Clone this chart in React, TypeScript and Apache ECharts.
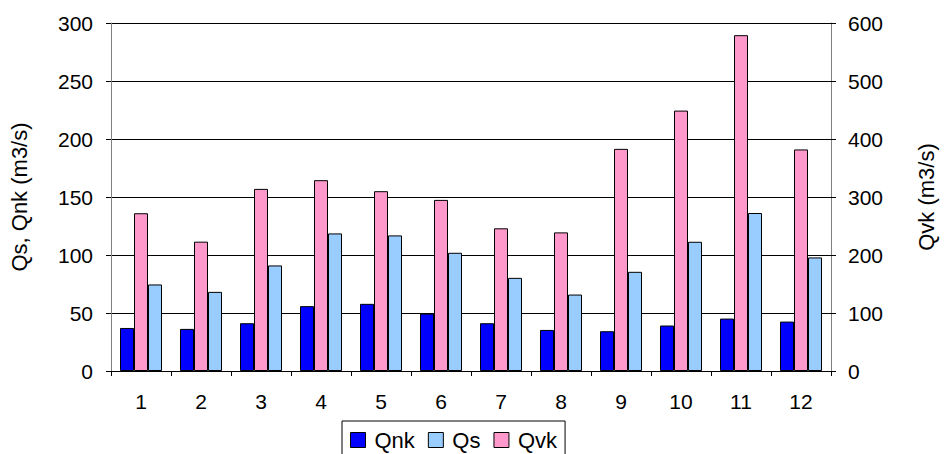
import React, { useEffect, useRef } from "react";
import * as echarts from "echarts";

const categories = ["1", "2", "3", "4", "5", "6", "7", "8", "9", "10", "11", "12"];
const qnk = [37.1, 36.3, 41.2, 55.9, 57.9, 49.5, 41.2, 35.4, 34.3, 39.2, 45.2, 42.6];
const qs = [74.6, 68.2, 91.0, 118.6, 116.9, 101.9, 80.3, 65.9, 85.5, 111.4, 136.2, 97.9];
const qvk = [272, 223, 314, 329, 310, 295, 246, 239, 383, 449, 579, 382];
const leftTicks = { min: 0, max: 300, interval: 50 };
const rightTicks = { min: 0, max: 600, interval: 100 };

const FONT = "'Liberation Sans', Arial, sans-serif";

export default function App() {
  const ref = useRef<HTMLDivElement>(null);
  useEffect(() => {
    if (!ref.current) return;
    const chart = echarts.init(ref.current, null, { renderer: "svg" });
    const border = { borderColor: "#000", borderWidth: 1 };
    chart.setOption({
      animation: false,
      backgroundColor: "#fff",
      textStyle: { fontFamily: FONT, color: "#000" },
      grid: { left: 108, right: 105, top: 23, bottom: 83 },
      legend: {
        data: ["Qnk", "Qs", "Qvk"],
        left: 342,
        top: 421,
        icon: "rect",
        itemWidth: 15,
        itemHeight: 15,
        itemGap: 13,
        padding: [8, 8, 8, 8],
        borderColor: "#000",
        borderWidth: 1,
        itemStyle: { borderColor: "#000", borderWidth: 1 },
        textStyle: { fontFamily: FONT, fontSize: 22, color: "#000", padding: [0, 0, 0, 4] },
      },
      xAxis: {
        type: "category",
        data: categories,
        axisLine: { lineStyle: { color: "#000", width: 1 } },
        axisTick: { show: true, length: 5, alignWithLabel: false, lineStyle: { color: "#000" } },
        axisLabel: { fontFamily: FONT, fontSize: 21, color: "#000", margin: 20 },
        splitLine: { show: false },
      },
      yAxis: [
        {
          type: "value",
          ...leftTicks,
          position: "left",
          name: "Qs, Qnk (m3/s)",
          nameLocation: "middle",
          nameGap: 81,
          nameTextStyle: { fontFamily: FONT, fontSize: 22, color: "#000" },
          axisLine: { show: true, lineStyle: { color: "#808080", width: 1 } },
          axisTick: { show: true, length: 5, inside: false, lineStyle: { color: "#000" } },
          axisLabel: { fontFamily: FONT, fontSize: 21, color: "#000", margin: 18 },
          splitLine: { show: true, lineStyle: { color: "#000", width: 1 } },
        },
        {
          type: "value",
          ...rightTicks,
          position: "right",
          name: "Qvk (m3/s)",
          nameLocation: "middle",
          nameGap: 84,
          nameTextStyle: { fontFamily: FONT, fontSize: 22, color: "#000" },
          axisLine: { show: true, lineStyle: { color: "#808080", width: 1 } },
          axisTick: { show: true, length: 5, inside: false, lineStyle: { color: "#000" } },
          axisLabel: { fontFamily: FONT, fontSize: 21, color: "#000", margin: 17 },
          splitLine: { show: false },
        },
      ],
      series: [
        {
          name: "Qnk",
          type: "bar",
          yAxisIndex: 0,
          data: qnk,
          barWidth: 14,
          barGap: "0%",
          itemStyle: { color: "#0000FF", ...border },
        },
        {
          name: "Qvk",
          type: "bar",
          yAxisIndex: 1,
          data: qvk,
          barWidth: 14,
          barGap: "0%",
          itemStyle: { color: "#FF99CC", ...border },
        },
        {
          name: "Qs",
          type: "bar",
          yAxisIndex: 0,
          data: qs,
          barWidth: 14,
          barGap: "0%",
          itemStyle: { color: "#99CCFF", ...border },
        },
      ],
    });
    return () => chart.dispose();
  }, []);
  return (
    <div
      ref={ref}
      style={{ position: "fixed", left: 0, top: 0, width: 945, height: 454 }}
    />
  );
}
